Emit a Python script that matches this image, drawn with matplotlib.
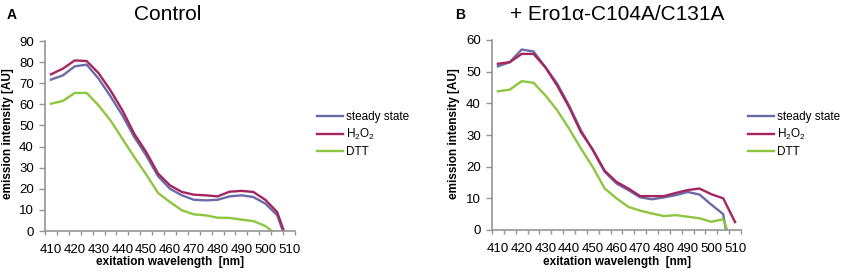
import matplotlib
matplotlib.use("Agg")
import matplotlib.pyplot as plt
from matplotlib.ticker import FixedLocator, NullFormatter

plt.rcParams['font.family'] = ['Liberation Sans', 'DejaVu Sans']
plt.rcParams['mathtext.fontset'] = 'custom'
plt.rcParams['mathtext.rm'] = 'Liberation Sans'
plt.rcParams['mathtext.it'] = 'Liberation Sans'

wavelength = list(range(410, 515, 5))
xtick_labels = list(range(410, 520, 10))

# panel A - Control
ctrl_steady = [71.7, 73.7, 78.0, 78.8, 72.2, 63.8, 54.8, 44.5, 35.8, 25.9, 20.0,
               16.9, 14.8, 14.5, 14.8, 16.4, 16.9, 16.1, 13.0, 7.5, -8.0]
ctrl_h2o2 = [74.2, 76.9, 80.8, 80.5, 74.8, 66.6, 57.2, 46.0, 37.4, 27.2, 21.6,
             18.5, 17.2, 16.9, 16.4, 18.6, 19.0, 18.5, 14.8, 9.0, -7.0]
ctrl_dtt = [60.3, 61.6, 65.4, 65.4, 59.5, 52.4, 43.7, 35.0, 26.8, 18.0, 13.7,
            9.8, 7.9, 7.4, 6.3, 6.2, 5.4, 4.7, 2.4, -2.0, -6.0]

# panel B - + Ero1a-C104A/C131A
mut_steady = [51.7, 53.0, 57.0, 56.4, 51.4, 46.2, 39.3, 31.5, 25.2, 18.4, 14.7,
              12.6, 10.3, 9.7, 10.3, 11.0, 12.0, 11.2, 8.0, 5.0, -17.0]
mut_h2o2 = [52.5, 53.0, 55.6, 55.6, 51.4, 45.6, 38.8, 30.9, 25.4, 18.7, 15.2,
            13.1, 10.7, 10.7, 10.7, 11.7, 12.6, 13.1, 11.3, 10.0, 2.5]
mut_dtt = [43.8, 44.3, 47.0, 46.5, 42.5, 37.8, 32.0, 25.7, 19.9, 13.1, 10.0,
           7.3, 6.1, 5.2, 4.4, 4.7, 4.2, 3.7, 2.6, 3.4, -6.7]

series_names = ['steady state', 'H$_2$O$_2$', 'DTT']
colors = ['#6b6ba6', '#a3265e', '#8dc63f']
grey = '#959595'

fig = plt.figure(figsize=(8.43, 2.72), dpi=100)
W, H = 843.0, 272.0


def setup_axis(ax, ymax, ystep):
    ax.set_xlim(407.5, 512.5)
    ax.set_ylim(0, ymax)
    for s in ['top', 'right']:
        ax.spines[s].set_visible(False)
    for s in ['left', 'bottom']:
        ax.spines[s].set_color(grey)
        ax.spines[s].set_linewidth(1.2)
    ax.set_yticks(range(0, ymax + 1, ystep))
    ax.set_xticks(xtick_labels)
    ax.xaxis.set_minor_locator(FixedLocator([407.5 + 5 * i for i in range(22)]))
    ax.xaxis.set_minor_formatter(NullFormatter())
    ax.tick_params(axis='x', which='major', length=0, pad=9.5, labelsize=9.5, colors='black')
    ax.tick_params(axis='x', which='minor', length=3, width=1, color=grey)
    ax.tick_params(axis='y', length=4, width=1, color=grey, labelsize=9.5, pad=4)


panels = [
    (45, 41, 250, 190, 90, 10, [ctrl_steady, ctrl_h2o2, ctrl_dtt], 'Control', 168, 'A', 7, 8, 170, 322),
    (492, 40, 249, 190, 60, 10, [mut_steady, mut_h2o2, mut_dtt], '+ Ero1\u03b1-C104A/C131A', 617, 'B', 455, 454, 617, 753),
]

for (x0, y0, w, h, ymax, ystep, data, title, tx, letter, lx, ylx, xlx, legx) in panels:
    ax = fig.add_axes([x0 / W, 1 - (y0 + h) / H, w / W, h / H])
    handles = []
    for vals, name, c in zip(data, series_names, colors):
        line, = ax.plot(wavelength, vals, color=c, lw=1.7, label=name)
        handles.append(line)
    setup_axis(ax, ymax, ystep)
    fig.text(tx / W, 1 - 14 / H, title, ha='center', va='center', fontsize=15)
    fig.text(lx / W, 1 - 15 / H, letter, ha='left', va='center', fontsize=10, fontweight='bold')
    fig.text(ylx / W, 1 - 134 / H, 'emission intensity [AU]', rotation=90,
             ha='center', va='center', fontsize=8.5, fontweight='bold')
    fig.text(xlx / W, 1 - 262 / H, 'exitation wavelength  [nm]', ha='center', va='center',
             fontsize=8.5, fontweight='bold')
    fig.legend(handles=handles, loc='upper left', bbox_to_anchor=(legx / W - 0.012, 1 - 106 / H),
               frameon=False, fontsize=8.5, handlelength=2.2, handletextpad=0.3,
               labelspacing=0.35, borderaxespad=0)

fig.savefig('out.png', dpi=100)
